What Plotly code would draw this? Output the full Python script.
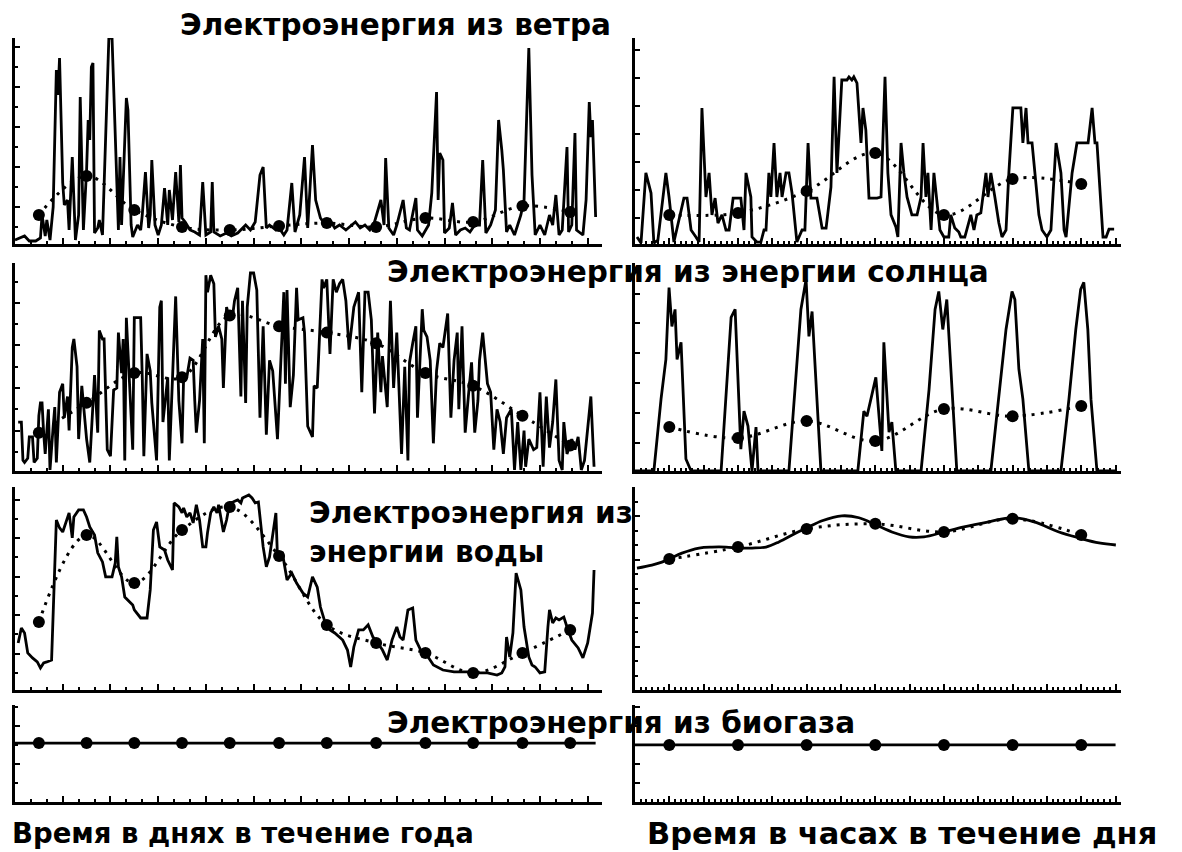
import plotly.graph_objects as go

# ---------------- DATA ----------------
# Left column: day of year -> relative output
wind_year = [(0,0.15),(3,0.25),(6,0.35),(9,0.1),(13,0.1),(16,0.25),(17,1.4),(19,0.35),(20,1.15),(22,0.15),
 (24,1.8),(26,8.65),(27,7.4),(28,9.25),(30,3.0),(31,1.9),(33,2.15),(34,0.65),(36,4.3),(38,0.15),(40,1.4),
 (41,7.3),(43,0.65),(45,3.65),(46,6.15),(47,5.15),(48,8.8),(49,9.0),(50,0.5),(52,0.75),(53,1.15),(55,0.4),
 (58,7.15),(59,10.25),(61,10.25),(64,2.15),(65,0.65),(66,4.3),(67,0.9),(70,7.25),(71,6.65),(73,0.9),(74,0.3),
 (77,0.9),(79,0.65),(80,1.4),(82,3.55),(84,0.75),(85,1.4),(86,4.15),(88,0.9),(90,0.4),(92,0.9),(94,2.75),
 (96,0.9),(97,2.65),(99,1.15),(101,3.55),(103,1.05),(104,3.9),(105,1.25),(107,1.05),(110,0.65),(113,0.55),
 (116,0.4),(118,3.05),(120,0.4),(123,0.55),(124,3.05),(125,0.55),(129,0.35),(133,0.5),(136,0.35),(140,0.5),
 (145,0.9),(148,0.65),(151,1.05),(154,3.4),(156,3.8),(158,0.75),(160,0.9),(164,0.65),(166,0.75),(169,0.4),
 (171,0.65),(174,3.0),(176,0.55),(179,1.4),(182,4.3),(184,0.75),(187,4.9),(189,2.15),(192,1.25),(195,0.9),
 (198,1.15),(201,0.75),(204,0.9),(208,0.65),(211,0.85),(214,1.05),(217,0.75),(220,0.9),(223,0.65),(226,1.05),
 (230,2.15),(232,0.9),(233,4.25),(235,0.75),(238,0.4),(240,0.9),(244,2.15),(246,0.75),(248,0.65),(252,2.25),
 (253,0.65),(256,0.35),(260,0.9),(262,2.5),(265,7.55),(266,2.15),(267,4.5),(269,4.15),(270,0.5),(273,0.75),
 (275,2.0),(277,0.4),(280,0.65),(283,0.75),(286,0.55),(289,0.9),(292,0.9),(294,4.15),(296,0.5),(299,0.9),
 (302,1.65),(304,6.15),(306,4.65),(307,3.65),(309,0.55),(311,0.9),(314,0.4),(318,1.4),(320,2.15),(323,9.75),
 (325,3.4),(327,0.4),(330,0.9),(333,0.4),(336,1.4),(338,0.9),(340,2.4),(342,0.4),(344,0.65),(347,4.8),
 (348,0.55),(350,0.9),(352,5.5),(353,0.65),(357,0.4),(359,2.15),(361,7.05),(362,5.3),(363,6.15),(365,1.3)]

solar_year = [(2,2.3),(4,2.3),(5,0.5),(6,0.4),(8,0.6),(9,1.6),(11,1.6),(12,0.4),(14,0.6),(15,2.6),(16,3.2),
 (17,3.2),(18,1.8),(19,0.8),(21,2.9),(22,0.05),(24,2.1),(25,3.0),(26,0.4),(28,3.7),(30,4.1),(31,2.5),(33,3.5),
 (34,1.9),(36,5.8),(37,6.2),(39,4.9),(40,1.5),(42,4.0),(44,2.4),(45,1.5),(47,0.4),(49,3.2),(50,4.5),(52,1.8),
 (53,6.6),(55,6.2),(56,6.2),(58,1.0),(60,0.7),(62,3.8),(64,3.9),(65,6.5),(67,4.6),(68,6.2),(69,0.5),(70,7.2),
 (72,4.1),(74,1.0),(75,7.2),(77,7.2),(79,7.2),(80,4.4),(81,0.7),(83,5.5),(85,4.7),(86,3.2),(87,2.3),(89,0.5),
 (91,7.7),(92,8.0),(93,2.3),(96,4.4),(97,0.5),(99,4.4),(101,8.2),(103,3.3),(105,1.3),(106,4.4),(108,4.4),
 (110,5.3),(112,5.2),(113,3.3),(114,1.8),(116,3.3),(118,6.2),(119,1.3),(120,9.2),(121,8.4),(123,9.2),(125,8.8),
 (126,6.3),(128,6.8),(130,6.2),(131,3.9),(133,7.7),(135,7.1),(137,7.4),(138,8.0),(140,8.6),(142,3.5),(143,8.0),
 (145,3.2),(146,7.7),(148,9.3),(150,9.3),(152,8.5),(154,2.5),(156,6.8),(158,1.7),(160,5.2),(162,4.7),(165,1.5),
 (167,5.1),(169,8.4),(170,4.1),(171,8.5),(173,3.0),(175,4.5),(177,8.6),(178,7.1),(181,7.2),(182,6.5),(184,2.1),
 (187,1.6),(188,4.0),(190,3.9),(193,9.0),(194,8.6),(196,9.0),(198,5.5),(200,9.0),(202,8.4),(204,8.8),(206,9.0),
 (208,8.0),(210,5.7),(213,7.7),(216,8.4),(218,3.7),(220,8.4),(222,8.4),(224,7.1),(226,2.7),(228,6.5),(230,3.7),
 (231,5.4),(234,3.0),(236,8.0),(238,3.9),(240,6.5),(243,0.8),(245,4.9),(247,0.5),(248,5.1),(250,6.0),(252,6.8),
 (253,2.5),(256,7.6),(257,6.6),(259,6.3),(261,5.2),(263,1.3),(265,4.7),(267,6.0),(269,5.8),(272,7.4),(274,2.5),
 (276,5.2),(278,6.5),(279,2.9),(281,6.8),(283,1.8),(285,3.5),(287,5.1),(289,1.8),(291,3.3),(292,5.2),(294,6.5),
 (297,4.1),(299,3.7),(301,1.0),(303,2.9),(305,2.3),(307,0.8),(309,2.5),(312,2.9),(314,0.05),(316,2.3),(318,0.05),
 (320,1.9),(321,0.2),(323,1.5),(326,1.0),(328,1.1),(330,3.7),(332,0.2),(334,3.5),(336,1.1),(338,2.3),(340,4.3),
 (342,0.5),(344,0.05),(345,2.3),(347,0.8),(350,1.5),(352,1.0),(354,1.6),(356,0.05),(358,0.5),(360,2.1),
 (362,3.5),(364,0.2)]

hydro_year = [(2,2.45),(4,3.23),(6,2.97),(8,1.93),(11,1.67),(13,1.56),(14,1.46),(16,1.15),(18,1.41),(20,1.46),
 (23,1.56),(26,8.85),(28,8.44),(30,8.23),(33,9.01),(34,9.22),(36,7.92),(37,9.01),(40,9.38),(43,9.38),(45,9.01),
 (47,8.49),(50,8.07),(52,7.14),(55,6.67),(57,5.89),(61,5.89),(63,6.61),(64,7.97),(65,6.41),(67,5.89),(69,4.84),
 (74,4.43),(75,4.17),(79,3.75),(83,3.75),(85,5.21),(87,8.33),(89,8.75),(91,7.45),(94,7.29),(96,6.77),(99,6.25),
 (100,9.74),(103,9.53),(105,9.22),(106,9.48),(108,9.01),(110,9.22),(112,8.7),(114,9.64),(116,8.85),(118,7.45),
 (120,7.45),(121,8.18),(123,9.22),(125,9.53),(127,9.22),(128,9.64),(131,8.23),(133,8.85),(135,9.74),(137,9.79),
 (140,9.9),(142,9.74),(143,10.0),(147,10.16),(149,10.0),(151,9.74),(153,9.79),(154,9.01),(156,7.45),(158,6.41),
 (160,6.93),(164,9.22),(165,6.93),(168,7.19),(171,5.73),(174,6.09),(177,5.57),(181,5.05),(184,4.84),(187,5.89),
 (190,5.36),(192,4.32),(195,3.49),(198,3.13),(201,2.97),(206,2.6),(209,2.08),(211,1.2),(213,2.24),(216,3.13),
 (219,3.13),(222,3.39),(225,2.76),(228,2.45),(231,2.08),(234,1.56),(237,2.6),(240,3.28),(242,2.76),(244,2.6),
 (247,4.17),(250,4.27),(252,2.6),(255,2.08),(258,1.93),(263,1.3),(269,1.04),(276,0.94),(284,0.94),(291,0.89),
 (297,0.89),(303,0.78),(306,0.89),(308,1.2),(309,2.76),(311,1.72),(313,2.97),(315,6.09),(318,5.21),(320,3.28),
 (323,1.72),(325,1.3),(327,1.2),(330,0.89),(333,0.94),(335,3.28),(336,4.17),(338,3.49),(340,3.75),(342,3.65),
 (345,3.8),(347,3.28),(350,2.6),(354,2.19),(357,1.67),(360,2.45),(363,4.01),(364,6.25)]

month_days = [15, 45, 75, 105, 135, 166, 196, 227, 258, 288, 319, 349]
wind_month = [1.4, 3.35, 1.65, 0.8, 0.65, 0.85, 1.0, 0.8, 1.25, 1.05, 1.85, 1.55]
solar_month = [1.8, 3.2, 4.6, 4.4, 7.3, 6.8, 6.5, 6.0, 4.6, 4.0, 2.6, 1.2]
hydro_month = [3.54, 8.07, 5.57, 8.33, 9.53, 6.98, 3.39, 2.45, 1.93, 0.89, 1.93, 3.13]
biogas_month = [3.1, 3.1, 3.1, 3.1, 3.1, 3.1, 3.1, 3.1, 3.1, 3.1, 3.1, 3.1]
biogas_year = [(0, 3.1), (365, 3.1)]

# Right column: hour of week -> relative output
wind_hours = [(0.7,0.32),(2.1,0.11),(3.8,2.61),(5.6,1.89),(6.6,0.1),(8.0,0.21),(10.8,2.61),(11.9,1.75),
 (13.6,0.14),(17.1,1.71),(18.2,1.71),(19.6,0.57),(21.3,0.32),(22.4,0.14),(23.4,4.93),(24.8,1.75),(25.9,2.61),
 (26.9,1.11),(28.0,1.71),(29.0,0.82),(30.4,1.11),(31.8,0.57),(32.9,0.57),(34.3,1.71),(37.0,1.71),(38.1,0.57),
 (38.8,2.61),(40.5,1.75),(40.9,0.32),(42.6,0.14),(44.0,0.14),(45.1,0.57),(45.8,0.57),(46.8,2.61),(47.5,1.75),
 (48.6,3.68),(49.6,1.75),(50.7,2.61),(51.4,1.75),(52.8,2.61),(53.8,2.61),(54.9,1.89),(56.6,0.14),(58.4,0.57),
 (59.4,0.57),(60.5,3.68),(61.5,1.71),(63.6,1.71),(65.4,0.64),(66.8,0.64),(68.5,2.1),(69.6,6.04),(70.6,2.61),
 (72.3,5.93),(74.1,5.93),(74.8,6.04),(75.8,5.93),(76.5,6.04),(77.6,5.82),(79.0,3.68),(79.7,4.93),(80.7,4.14),
 (81.8,1.71),(83.5,1.71),(84.6,1.71),(86.0,1.75),(87.4,6.04),(88.4,2.61),(89.5,1.11),(91.2,0.68),(91.9,0.32),
 (93.0,3.68),(94.0,2.61),(95.1,1.75),(96.8,1.11),(98.6,1.11),(100.0,1.75),(100.7,3.68),(101.7,1.75),
 (102.4,2.61),(103.5,0.57),(104.5,2.61),(105.2,2.0),(106.6,0.57),(108.0,0.32),(109.7,0.32),(110.4,1.11),
 (111.8,0.64),(113.2,0.5),(113.9,0.32),(115.3,0.32),(117.4,1.11),(118.5,0.57),(119.5,1.11),(120.9,1.18),
 (122.7,2.61),(123.4,1.75),(124.4,2.61),(125.8,1.75),(127.2,0.82),(128.3,0.32),(129.7,0.57),(130.7,2.61),
 (132.1,4.93),(134.9,4.93),(135.6,3.68),(136.7,4.93),(137.4,3.68),(138.8,3.68),(139.8,2.61),(141.2,1.11),
 (142.3,0.57),(144.0,0.32),(145.4,0.57),(147.2,3.68),(148.9,2.61),(150.0,0.57),(150.7,0.32),(152.8,2.61),
 (154.5,3.68),(158.4,3.68),(159.8,4.93),(160.8,3.68),(161.5,3.68),(163.6,0.32),(164.7,0.32),(165.7,0.6),
 (167.5,0.6)]

solar_hours = [(0,0),(6.6,0),(9.1,2.4),(10.8,3.73),(11.9,6.13),(12.9,4.83),(14.0,5.4),(14.7,3.73),(16.1,4.3),
 (17.8,0.4),(19.6,0),(30.1,0),(33.6,5.13),(35.0,5.4),(37.0,0.73),(38.1,2.0),(39.5,1.5),(40.9,0),(42.3,1.47),
 (43.0,0),(53.8,0),(58.0,5.4),(59.8,6.4),(60.8,4.5),(61.9,5.33),(65.0,0),(77.9,0),(80.0,2.0),(81.1,1.83),
 (84.2,3.13),(86.3,0.67),(87.0,4.3),(88.8,1.3),(89.8,1.63),(91.2,0),(100.0,0),(102.8,2.73),(104.9,5.4),
 (106.2,6.0),(107.6,4.73),(109.0,5.73),(110.8,2.73),(112.5,0),(124.4,0),(127.2,2.4),(129.7,4.73),(131.8,6.0),
 (132.8,5.73),(134.2,3.4),(135.6,2.4),(137.7,0),(148.9,0),(151.7,2.4),(154.1,4.73),(155.8,6.07),(156.9,6.3),
 (158.3,4.73),(159.4,2.4),(161.5,0),(168,0)]

hydro_hours = [(0.7,8.4),(5.9,8.61),(9.4,8.82),(11.9,9.03),(16.4,9.44),(22.4,9.79),(26.9,9.86),(31.8,9.86),
 (36.3,9.79),(40.9,9.79),(45.8,9.86),(50.3,10.21),(56.3,10.83),(60.1,11.18),(65.4,11.67),(72.3,12.01),
 (78.3,11.88),(84.2,11.39),(89.8,10.9),(95.8,10.56),(101.0,10.56),(108.0,10.9),(115.0,11.25),(123.7,11.6),
 (131.8,11.88),(139.5,11.6),(148.2,10.9),(155.2,10.49),(162.2,10.14),(168.1,10.0)]

day_hours = [12, 36, 60, 84, 108, 132, 156]
wind_day = [1.11, 1.18, 1.96, 3.32, 1.11, 2.39, 2.21]
solar_day = [1.47, 1.1, 1.67, 1.0, 2.07, 1.83, 2.17]
hydro_day = [9.03, 9.86, 11.11, 11.46, 10.9, 11.81, 10.69]
biogas_day = [3.0, 3.0, 3.0, 3.0, 3.0, 3.0, 3.0]
biogas_hours = [(0, 3.0), (168, 3.0)]

titles = ["Электроэнергия из ветра", "Электроэнергия из энергии солнца",
          "Электроэнергия из", "энергии воды", "Электроэнергия из биогаза"]
xlabels = ["Время в днях в течение года", "Время в часах в течение дня"]

# ---------------- LAYOUT ----------------
# page body adds an 8px margin, so the figure is laid out in window pixels minus that offset
OFF = 8
W, H = 1182 - OFF, 852 - OFF
def fx(p):
    return (p - OFF) / W
def fy(p):
    return 1 - (p - OFF) / H

LEFT = (15, 602)
RIGHT = (635, 1121)
rows = [(38, 244), (263, 471), (487, 690), (705, 802)]

panels = [
    (wind_year, wind_month, month_days, 0, 0, [-0.05, 10.25], dict(t0=1.8, d=2, mt0=0.8, md=1)),
    (wind_hours, wind_day, day_hours, 1, 0, [0.07, 7.43], dict(t0=1.0, d=1, mt0=None, md=None)),
    (solar_year, solar_month, month_days, 0, 1, [0, 9.77], dict(t0=1.9, d=2, mt0=0.9, md=1)),
    (solar_hours, solar_day, day_hours, 1, 1, [0, 6.95], dict(t0=0.93, d=1, mt0=None, md=None)),
    (hydro_year, hydro_month, month_days, 0, 2, [0, 10.57], dict(t0=1.9, d=2, mt0=0.9, md=1)),
    (hydro_hours, hydro_day, day_hours, 1, 2, [0, 14.0], dict(t0=0, d=3, mt0=0, md=1)),
    (biogas_year, biogas_month, month_days, 0, 3, [0, 5.1], dict(t0=0, d=2, mt0=0, md=1)),
    (biogas_hours, biogas_day, day_hours, 1, 3, [0, 5.1], dict(t0=0, d=1, mt0=None, md=None)),
]

fig = go.Figure()
layout = {}
for i, (series, dots, dotx, col, row, yr, yt) in enumerate(panels, start=1):
    xs = [p[0] for p in series]
    ys = [p[1] for p in series]
    xa = "x" if i == 1 else f"x{i}"
    ya = "y" if i == 1 else f"y{i}"
    smooth = (series is hydro_hours)
    fig.add_trace(go.Scatter(x=xs, y=ys, mode="lines", xaxis=xa, yaxis=ya,
                             line=dict(color="black", width=2.8,
                                       shape="spline" if smooth else "linear"),
                             showlegend=False, hoverinfo="skip"))
    if row < 3:
        fig.add_trace(go.Scatter(x=dotx, y=dots, mode="lines", xaxis=xa, yaxis=ya,
                                 line=dict(color="black", width=3, dash="3px,6px", shape="spline"),
                                 showlegend=False, hoverinfo="skip"))
    fig.add_trace(go.Scatter(x=dotx, y=dots, mode="markers", xaxis=xa, yaxis=ya,
                             marker=dict(color="black", size=12),
                             showlegend=False, hoverinfo="skip"))
    xd = LEFT if col == 0 else RIGHT
    top, bot = rows[row]
    if col == 0:
        xr, xdt, xmd = [0, 369], 30, 10
    else:
        xr, xdt, xmd = [0, 169.9], 12, 2
    xkey = "xaxis" if i == 1 else f"xaxis{i}"
    ykey = "yaxis" if i == 1 else f"yaxis{i}"
    layout[xkey] = dict(domain=[fx(xd[0]), fx(xd[1])], anchor=ya, range=xr,
                        showgrid=False, zeroline=False, showline=True, linewidth=3,
                        linecolor="black", ticks="inside", ticklen=6, tickwidth=2,
                        tickcolor="black", tick0=0, dtick=xdt, showticklabels=False,
                        minor=dict(ticks="inside", ticklen=3, tickwidth=2,
                                   tickcolor="black", tick0=0, dtick=xmd, showgrid=False))
    ydict = dict(domain=[fy(bot), fy(top)], anchor=xa, range=yr,
                 showgrid=False, zeroline=False, showline=True, linewidth=3,
                 linecolor="black", ticks="inside", ticklen=5, tickwidth=2,
                 tickcolor="black", tick0=yt["t0"], dtick=yt["d"], showticklabels=False)
    if yt["md"] is not None:
        ydict["minor"] = dict(ticks="inside", ticklen=3, tickwidth=2, tickcolor="black",
                              tick0=yt["mt0"], dtick=yt["md"], showgrid=False)
    layout[ykey] = ydict

TF = dict(family="DejaVu Sans", size=29.5, color="black", weight="bold")
BL = dict(family="DejaVu Sans", size=27.5, color="black", weight="bold")
BR = dict(family="DejaVu Sans", size=30.5, color="black", weight="bold")
ann = [
    dict(text=titles[0], x=fx(178), y=fy(25), font=TF),
    dict(text=titles[1], x=fx(385), y=fy(272), font=TF),
    dict(text=titles[2], x=fx(307), y=fy(513), font=TF),
    dict(text=titles[3], x=fx(307), y=fy(552), font=TF),
    dict(text=titles[4], x=fx(385), y=fy(723), font=TF),
    dict(text=xlabels[0], x=fx(10), y=fy(833), font=BL),
    dict(text=xlabels[1], x=fx(645), y=fy(833), font=BR),
]
for a in ann:
    a.update(xref="paper", yref="paper", xanchor="left", yanchor="middle", showarrow=False)

fig.update_layout(width=W, height=H, autosize=False, margin=dict(l=0, r=0, t=0, b=0),
                  paper_bgcolor="white", plot_bgcolor="white", annotations=ann, **layout)

fig.write_html("out.html")
